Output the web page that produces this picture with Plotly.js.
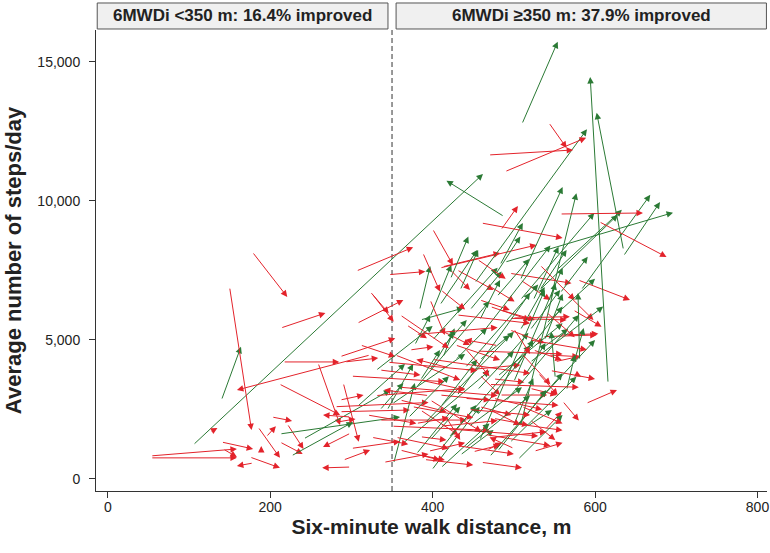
<!DOCTYPE html>
<html>
<head>
<meta charset="utf-8">
<script src="https://cdn.plot.ly/plotly-3.0.1.min.js"></script>
<style>html,body{margin:0;padding:0;background:#fff;}#chart{width:770px;height:553px;}</style>
</head>
<body>
<div id="chart"></div>
<script>
// Six-minute walk distance (m) and average steps/day: baseline (start) -> follow-up (end)
// Group A: lower-distance / near-threshold patients
const leftStartDist  = [53,53,140,142,179,189,175,185,195,202,105,140,150,178,213,216,323,211,259,299,221,212,126,241,212,226,299,290,299,283,306,346,323,307,325,290,286,307,344,352,399,286,286,292,311,335];
const leftStartSteps = [830,760,1330,1080,575,935,790,1870,1510,2230,1220,2840,6900,8165,5430,4210,4460,3420,4170,430,1980,1330,1690,1440,1620,830,1650,680,2230,2050,7480,7350,6740,5600,6680,3450,2420,2600,2480,560,324,4400,2840,4210,4820,2480];
const leftEndDist    = [159,159,179,159,159,189,212,212,207,227,462,164,177,221,268,285,159,286,286,264,241,240,135,348,360,302,265,323,265,305,376,391,346,364,352,309,372,366,376,378,458,354,315,333,354,364];
const leftEndSteps   = [1080,760,1080,790,470,1190,400,760,1900,2090,10970,4760,1760,6550,5970,4210,3200,2300,1940,400,1080,900,1835,3200,2230,2050,1150,1040,2300,2160,8335,7460,5960,6440,5660,1340,2480,4140,4137,3450,2600,5060,3020,4350,4400,3450];
const leftImproved   = [0,0,0,0,0,0,0,0,0,0,1,1,0,0,0,0,0,0,0,0,0,0,0,1,1,1,0,0,0,0,0,0,0,0,0,0,0,1,1,1,1,0,0,0,0,1];

// Group B: improved patients (green)
const grnStartDist  = [384,397,409,413,385,415,428,524,532,479,557,446,458,508,520,538,581,532,575,458,483,501,514,452,508,532,583,635,489,545,508,483,477,422,434,553,616,635,510,488,495,516,499,551,565,409,434,397,378,385,397,508,458];
const grnStartSteps = [6080,5840,6260,4390,5720,4820,4280,6440,6800,6560,6690,6080,5720,5360,5360,5000,4280,4640,4280,4280,4100,3920,3740,7050,6440,6800,6800,8020,7800,6440,7160,7700,7340,7200,6800,7520,3450,8240,12770,9440,1310,1880,1880,3630,3200,1040,860,1400,4820,3560,3920,1880,1400];
const grnEndDist    = [397,423,455,427,438,442,467,555,565,519,591,485,483,538,557,560,579,567,586,495,518,524,539,590,599,628,668,680,696,577,560,511,508,444,456,633,594,602,554,417,577,547,524,546,575,454,475,434,397,409,426,551,538];
const grnEndSteps   = [7660,7700,8240,5420,6150,5720,5430,8357,8240,7910,7990,7460,7160,6910,6800,6660,6690,5400,5430,5180,5260,5000,4890,12580,9570,9500,10220,9960,9580,10280,10500,9210,8720,8720,8240,9680,14460,13170,15730,10730,3680,2480,3620,5300,4460,2660,1760,2600,5900,4640,5300,7040,6800];
const grnStartDist2  = [360,390,420,455,470,380,430,490,500,350,440,530,400,460,330,520,445,480,410,540,380,410,440,480,505,370,455];
const grnStartSteps2 = [1200,2000,1500,2300,800,3300,3000,2800,3500,2700,4000,2800,5000,5200,3900,4200,1900,3700,2600,5600,900,400,1100,1000,700,2200,3200];
const grnEndDist2    = [470,500,520,560,560,470,520,580,560,440,530,600,480,545,400,610,510,560,455,600,430,470,520,540,560,420,500];
const grnEndSteps2   = [3900,5300,4800,6200,3800,6400,6700,5900,7600,4500,7000,5000,7600,8400,5500,6200,3300,5600,4300,7200,2700,2000,3000,3200,2300,3700,4600];

// Group C: not improved patients (red)
const redStartDist  = [412,388,430,409,495,579,471,569,573,471,495,536,557,543,524,551,589,538,475,467,520,483,475,575,368,372,360,385,335,397,450,360,335,354,409,397,422,458,483,495,428,440,458,385,409,415,471,520,508,532,543,469,489,484,460,557,605,400,530,499,458,385,385];
const redStartSteps = [7630,8130,7520,7590,7400,7160,6920,6560,6080,6200,5780,5120,5180,4460,4640,4220,2720,1760,2180,1040,3260,3020,3600,3800,5540,4640,2840,2480,2120,2840,980,1040,3920,4460,5360,6440,7520,6440,6080,5360,4820,3920,3740,3560,3020,2300,2480,2120,7160,7700,12817,11655,11055,8956,9208,9532,9255,8992,3810,5790,2600,1520,860];
const redEndDist    = [483,409,475,528,571,643,501,598,608,520,565,602,604,580,559,582,627,559,518,485,553,541,513,583,393,401,417,432,442,460,483,409,385,434,446,415,446,495,526,538,483,508,483,440,471,434,508,551,545,575,565,573,589,505,560,659,688,425,554,569,497,417,415];
const redEndSteps   = [8130,6740,6800,8417,7040,6440,6380,5720,5480,5720,5720,5180,5220,4400,4280,4420,3200,2420,1940,1310,3020,3020,3480,3680,5060,4760,2420,1580,2120,1700,1220,680,3740,3560,4820,5180,6800,6080,5720,4890,4280,4100,3020,3200,2840,1400,1940,1400,6440,6440,11906,11834,12277,9820,8669,9568,7985,7698,3020,5840,2300,1400,680];
const redStartDist2  = [300,330,350,280,345,360,400,420,440,455,470,380,430,465,500,510,440,395,520,545,360,410,380,325,560,475,500,540,455,300,320,340,355,375,390,410,430,445,460,475,500,510,525,395,420,480];
const redStartSteps2 = [3700,3000,1900,2600,4200,3300,4300,1800,2900,4600,3400,5200,5900,1600,2000,4500,4700,1000,5000,3900,5900,6800,2000,1500,2800,2900,5400,6000,7900,1100,2300,600,1500,2600,700,1900,1200,2500,600,1500,1100,2600,1000,3000,4000,4800];
const redEndDist2    = [415,440,470,395,455,480,520,530,555,560,580,480,520,545,560,545,470,440,590,600,420,440,420,370,580,535,520,575,490,360,380,395,420,450,450,480,500,520,510,540,470,560,560,340,380,440];
const redEndSteps2   = [3500,3250,1750,2750,3900,3000,3800,1550,2650,4500,3300,5450,5600,1200,1750,3400,3700,1300,4650,3600,4700,6100,2200,1250,2100,2500,4500,5100,7200,1350,2000,900,1100,2200,500,2100,900,2300,400,1700,1500,2000,1300,3200,4300,5000];

const xTicks = [0,200,400,600,800];
const xTickText = ['0','200','400','600','800'];
const yTicks = [0,5000,10000,15000];
const yTickText = ['0','5,000','10,000','15,000'];
const threshold = 350;
const headerLeft = '6MWDi &lt;350 m: 16.4% improved';
const headerRight = '6MWDi \u2265350 m: 37.9% improved';

const RED = '#e3232b';
const GREEN = '#2b7a35';
const FONT = 'Liberation Sans, Arial, Helvetica, sans-serif';

function arrow(x0, y0, x1, y1, improved) {
  return {
    xref: 'x', yref: 'y', axref: 'x', ayref: 'y',
    x: x1, y: y1, ax: x0, ay: y0,
    text: '', showarrow: true,
    arrowhead: 2, arrowsize: 1.3, arrowwidth: 1,
    arrowcolor: improved ? GREEN : RED,
    standoff: 0, startstandoff: 0
  };
}

const annotations = [];
for (let i = 0; i < leftStartDist.length; i++) {
  annotations.push(arrow(leftStartDist[i], leftStartSteps[i], leftEndDist[i], leftEndSteps[i], leftImproved[i] === 1));
}
const rX0 = redStartDist.concat(redStartDist2), rY0 = redStartSteps.concat(redStartSteps2);
const rX1 = redEndDist.concat(redEndDist2), rY1 = redEndSteps.concat(redEndSteps2);
const gX0 = grnStartDist.concat(grnStartDist2), gY0 = grnStartSteps.concat(grnStartSteps2);
const gX1 = grnEndDist.concat(grnEndDist2), gY1 = grnEndSteps.concat(grnEndSteps2);
const n = Math.max(rX0.length, gX0.length);
for (let i = 0; i < n; i++) {
  if (i < rX0.length) annotations.push(arrow(rX0[i], rY0[i], rX1[i], rY1[i], false));
  if (i < gX0.length) annotations.push(arrow(gX0[i], gY0[i], gX1[i], gY1[i], true));
}

annotations.push({
  xref: 'x', yref: 'paper', x: 166, y: 1.0304, xanchor: 'center', yanchor: 'middle',
  text: '<b>' + headerLeft + '</b>', showarrow: false,
  font: {family: FONT, size: 17, color: '#222'}
});
annotations.push({
  xref: 'x', yref: 'paper', x: 583, y: 1.0304, xanchor: 'center', yanchor: 'middle',
  text: '<b>' + headerRight + '</b>', showarrow: false,
  font: {family: FONT, size: 17, color: '#222'}
});

const shapes = [
  {type: 'line', xref: 'x', yref: 'paper', x0: threshold, x1: threshold, y0: 0, y1: 1,
   line: {color: '#333', width: 1, dash: '5px,3px'}},
  {type: 'rect', xref: 'x', yref: 'paper', x0: -13, x1: 345, y0: 1.0022, y1: 1.0586,
   fillcolor: '#f0f0f0', line: {color: '#555', width: 1}},
  {type: 'rect', xref: 'x', yref: 'paper', x0: 355, x1: 811, y0: 1.0022, y1: 1.0586,
   fillcolor: '#f0f0f0', line: {color: '#555', width: 1}}
];

const layout = {
  width: 770, height: 553,
  margin: {l: 96, r: 3, t: 30, b: 62},
  paper_bgcolor: '#fff', plot_bgcolor: '#fff',
  showlegend: false,
  font: {family: FONT, color: '#222'},
  xaxis: {
    range: [-14.5, 811.7], tickmode: 'array', tickvals: xTicks, ticktext: xTickText,
    ticks: 'outside', ticklen: 6, tickwidth: 1, tickcolor: '#333', ticklabelstandoff: -3,
    showline: true, linecolor: '#333', linewidth: 1, showgrid: false, zeroline: false,
    tickfont: {family: FONT, size: 14, color: '#222'},
    title: {text: '<b>Six-minute walk distance, m</b>', font: {family: FONT, size: 21, color: '#222'}, standoff: 0},
    automargin: false, fixedrange: true
  },
  yaxis: {
    range: [-432, 16150], tickmode: 'array', tickvals: yTicks, ticktext: yTickText,
    ticks: 'outside', ticklen: 6, tickwidth: 1, tickcolor: '#333', ticklabelstandoff: 6,
    showline: true, linecolor: '#333', linewidth: 1, showgrid: false, zeroline: false,
    tickfont: {family: FONT, size: 14, color: '#222'},
    title: {text: '<b>Average number of steps/day</b>', font: {family: FONT, size: 22, color: '#222'}, standoff: 9},
    automargin: false, fixedrange: true
  },
  shapes: shapes,
  annotations: annotations
};

Plotly.newPlot('chart', [{x: [], y: [], type: 'scatter', mode: 'markers', hoverinfo: 'skip'}], layout, {displayModeBar: false, staticPlot: true});
</script>
</body>
</html>
